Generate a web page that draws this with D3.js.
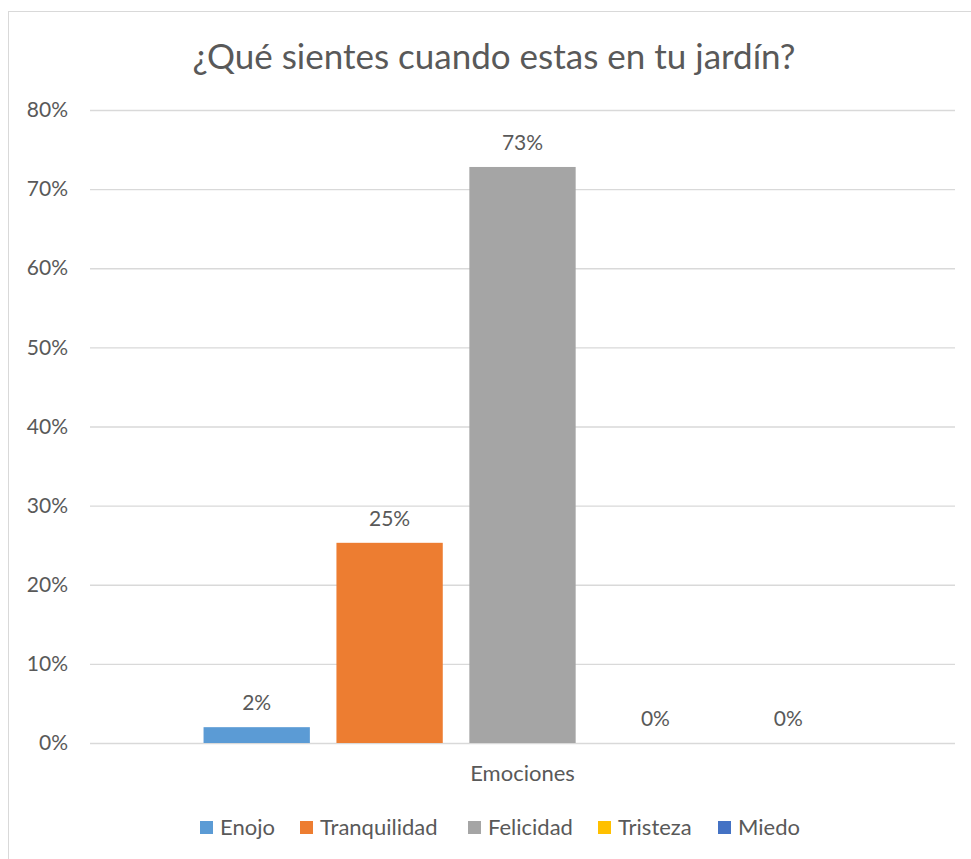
<!DOCTYPE html>
<html>
<head>
<meta charset="utf-8">
<script src="https://cdn.jsdelivr.net/npm/d3@7"></script>
<style>
  body { margin: 0; background: #fff; }
  text { font-family: Lato, "Open Sans", sans-serif; fill: #595959; }
</style>
</head>
<body>
<svg id="chart" width="971" height="859"></svg>
<script>
// data
const category = 'Emociones';
const series = ['Enojo', 'Tranquilidad', 'Felicidad', 'Tristeza', 'Miedo'];
const values = [0.02, 0.253, 0.728, 0, 0];
const labels = ['2%', '25%', '73%', '0%', '0%'];
const colors = ['#5B9BD5', '#ED7D31', '#A5A5A5', '#FFC000', '#4472C4'];
const yTicks = [0, 0.1, 0.2, 0.3, 0.4, 0.5, 0.6, 0.7, 0.8];

const svg = d3.select('#chart');
const plotLeft = 90, plotRight = 955, plotTop = 110, plotBottom = 743;

// chart frame
svg.append('rect')
  .attr('x', 8.5).attr('y', 11.5)
  .attr('width', 970).attr('height', 860)
  .attr('fill', '#fff').attr('stroke', '#D9D9D9');

svg.append('text')
  .attr('x', 494).attr('y', 69)
  .attr('text-anchor', 'middle')
  .style('font-size', '35px')
  .text('¿Qué sientes cuando estas en tu jardín?');

const y = d3.scaleLinear().domain([0, 0.8]).range([plotBottom, plotTop]);
const x0 = d3.scaleBand().domain([category]).range([plotLeft, plotRight]).paddingOuter(0.178);
const x1 = d3.scaleBand().domain(series)
  .range([x0(category), x0(category) + x0.bandwidth()])
  .paddingInner(0.2).paddingOuter(0);

const yAxis = d3.axisLeft(y)
  .tickValues(yTicks)
  .tickSize(-(plotRight - plotLeft))
  .tickPadding(22)
  .tickFormat(d3.format('.0%'));

const ga = svg.append('g')
  .attr('transform', `translate(${plotLeft},0)`)
  .call(yAxis);
ga.select('.domain').remove();
ga.selectAll('.tick line').attr('stroke', '#D9D9D9').attr('stroke-width', 1.3);
ga.selectAll('.tick text')
  .style('font-size', '21px')
  .attr('fill', '#595959')
  .attr('font-family', 'Lato, "Open Sans", sans-serif');

const data = series.map((s, i) => ({ name: s, value: values[i], label: labels[i], color: colors[i] }));

svg.append('g').selectAll('rect')
  .data(data)
  .join('rect')
  .attr('x', d => x1(d.name))
  .attr('y', d => y(d.value))
  .attr('width', x1.bandwidth())
  .attr('height', d => y(0) - y(d.value))
  .attr('fill', d => d.color);

svg.append('g').selectAll('text')
  .data(data)
  .join('text')
  .attr('x', d => x1(d.name) + x1.bandwidth() / 2)
  .attr('y', d => y(d.value) - 17)
  .attr('text-anchor', 'middle')
  .style('font-size', '21px')
  .text(d => d.label);

svg.append('text')
  .attr('x', x0(category) + x0.bandwidth() / 2)
  .attr('y', 781)
  .attr('text-anchor', 'middle')
  .style('font-size', '22px')
  .text(category);

// legend
const legendX = [200, 300, 468, 598, 718];
const legend = svg.append('g').selectAll('g')
  .data(data)
  .join('g')
  .attr('transform', (d, i) => `translate(${legendX[i]},821)`);
legend.append('rect')
  .attr('width', 13).attr('height', 13)
  .attr('fill', d => d.color);
legend.append('text')
  .attr('x', 20).attr('y', 14)
  .style('font-size', '22px')
  .text(d => d.name);
</script>
</body>
</html>
